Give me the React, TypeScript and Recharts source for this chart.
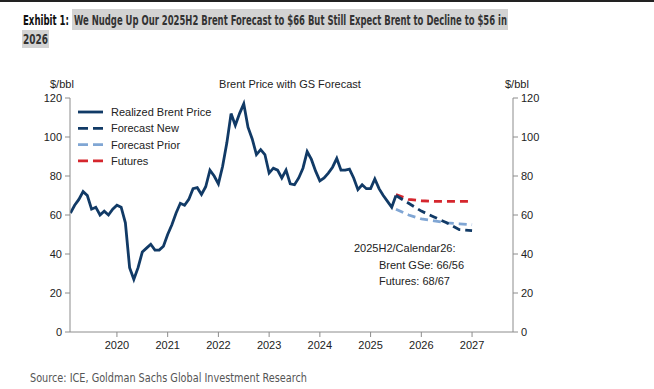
import React from 'react';
import { LineChart, Line, XAxis, YAxis } from 'recharts';

// monthly realized Brent, Feb 2019 .. Jul 2025
const realizedStart = 2019 + 1 / 12;
const realized = [
  61, 65, 68, 72, 70, 63, 64, 60, 62, 60, 63,
  65, 64, 56, 33, 27, 33, 41, 43, 45, 42, 42, 44,
  50, 55, 61, 66, 65, 68, 73.5, 74, 70.5, 74.5, 83, 80,
  76, 85, 97, 112, 106, 112, 117, 105, 99, 91, 93.5, 91,
  81.5, 84, 83, 79, 83, 76, 75.5, 79, 84, 92.5, 88.5, 82.5,
  77.5, 79, 81.5, 84.5, 89, 83, 83, 83.5, 79, 73, 75.5, 73.5,
  73.5, 78.5, 73.5, 70, 67, 64, 70,
];

// quarterly forecast points
const forecastDates = [2025.5, 2025.75, 2026.0, 2026.25, 2026.5, 2026.75, 2027.0];
const forecastNew = [70, 66, 62, 59, 56, 52.5, 52];
const forecastPrior = [63, 60, 58, 57, 56, 55.5, 55];
const futures = [70.5, 68, 67.3, 67, 67, 67, 67];

const yearTicks = [2020, 2021, 2022, 2023, 2024, 2025, 2026, 2027];
const valueTicks = [0, 20, 40, 60, 80, 100, 120];

const NAVY = '#113a66';
const LIGHT = '#80a6d4';
const RED = '#d5262d';
const AXIS = '#8c8c8c';
const FONT = '"Liberation Sans", Arial, sans-serif';
const NARROW = '"Liberation Sans Narrow", "DejaVu Sans Condensed", sans-serif';

const rows: any[] = realized.map((v, i) => ({ x: realizedStart + i / 12, realized: v }));
forecastDates.forEach((d, i) => {
  let row = rows.find((r) => Math.abs(r.x - d) < 0.001);
  if (!row) {
    row = { x: d };
    rows.push(row);
  }
  row.fNew = forecastNew[i];
  row.fPrior = forecastPrior[i];
  row.futures = futures[i];
});

const legendItems = [
  { label: 'Realized Brent Price', color: NAVY, dash: undefined },
  { label: 'Forecast New', color: NAVY, dash: '10 5' },
  { label: 'Forecast Prior', color: LIGHT, dash: '10 5' },
  { label: 'Futures', color: RED, dash: '10 5' },
];

const tickStyle = { fontSize: 11, fill: '#222', fontFamily: FONT };

export default function App() {
  return (
    <div style={{ position: 'relative', width: 654, height: 389, background: '#fff', overflow: 'hidden' }}>
      <style>{`body{margin:0}`}</style>
      <svg width={654} height={389} style={{ position: 'absolute', left: 0, top: 0 }}>
        <rect x={0} y={0} width={654} height={2} fill="#222" />
        <rect x={72} y={9} width={436} height={21} fill="#d3d3d3" />
        <rect x={22} y={30} width={27} height={18} fill="#d3d3d3" />
        <g fontFamily={NARROW} fontWeight="bold" fontSize={11.5}>
          <g transform="translate(23,25) scale(1,1.3)">
            <text x={0} y={0} fill="#111" textLength={46} lengthAdjust="spacingAndGlyphs">Exhibit 1:</text>
          </g>
          <g transform="translate(74,25) scale(1,1.3)">
            <text x={0} y={0} fill="#333" textLength={433} lengthAdjust="spacingAndGlyphs">
              We Nudge Up Our 2025H2 Brent Forecast to $66 But Still Expect Brent to Decline to $56 in
            </text>
          </g>
          <g transform="translate(23,44) scale(1,1.3)">
            <text x={0} y={0} fill="#333" textLength={25} lengthAdjust="spacingAndGlyphs">2026</text>
          </g>
        </g>
        <text x={30} y={382} fill="#555" fontSize={12.5} fontFamily={NARROW} textLength={277} lengthAdjust="spacingAndGlyphs">
          Source: ICE, Goldman Sachs Global Investment Research
        </text>
        <g fontFamily={FONT} fontSize={11} fill="#222">
          <text x={290} y={88} textAnchor="middle">Brent Price with GS Forecast</text>
          <text x={50} y={88}>$/bbl</text>
          <text x={505} y={88}>$/bbl</text>
          <text x={354} y={252}>2025H2/Calendar26:</text>
          <text x={379} y={269}>Brent GSe: 66/56</text>
          <text x={379} y={285}>Futures: 68/67</text>
        </g>
        <g fontFamily={FONT} fontSize={11} fill="#222">
          {legendItems.map((it, i) => (
            <g key={it.label}>
              <line x1={78} x2={103} y1={112 + i * 16.3} y2={112 + i * 16.3} stroke={it.color} strokeWidth={2.8} strokeDasharray={it.dash} />
              <text x={111} y={116 + i * 16.3}>{it.label}</text>
            </g>
          ))}
        </g>
      </svg>
      <div style={{ position: 'absolute', left: 0, top: 0 }}>
        <LineChart width={654} height={389} data={rows} margin={{ top: 98, right: 0, left: 0, bottom: 27 }}>
          <XAxis
            dataKey="x"
            type="number"
            domain={[2019.075, 2027.807]}
            ticks={yearTicks}
            allowDataOverflow
            stroke={AXIS}
            tickSize={5}
            tickMargin={4}
            height={30}
            tick={tickStyle}
            tickLine={{ stroke: AXIS }}
          />
          <YAxis
            yAxisId="l"
            domain={[0, 120]}
            ticks={valueTicks}
            width={70}
            stroke={AXIS}
            tickSize={5}
            tickMargin={3}
            tick={tickStyle}
          />
          <YAxis
            yAxisId="r"
            orientation="right"
            domain={[0, 120]}
            ticks={valueTicks}
            width={141}
            stroke={AXIS}
            tickSize={5}
            tickMargin={3}
            tick={{ ...tickStyle, textAnchor: 'start' }}
          />
          <Line yAxisId="l" dataKey="realized" stroke={NAVY} strokeWidth={2.8} dot={false} isAnimationActive={false} connectNulls />
          <Line yAxisId="r" dataKey="fPrior" stroke={LIGHT} strokeWidth={2.8} strokeDasharray="8 5" dot={false} isAnimationActive={false} connectNulls />
          <Line yAxisId="r" dataKey="futures" stroke={RED} strokeWidth={2.8} strokeDasharray="8 5" dot={false} isAnimationActive={false} connectNulls />
          <Line yAxisId="r" dataKey="fNew" stroke={NAVY} strokeWidth={2.8} strokeDasharray="8 5" dot={false} isAnimationActive={false} connectNulls />
        </LineChart>
      </div>
    </div>
  );
}
